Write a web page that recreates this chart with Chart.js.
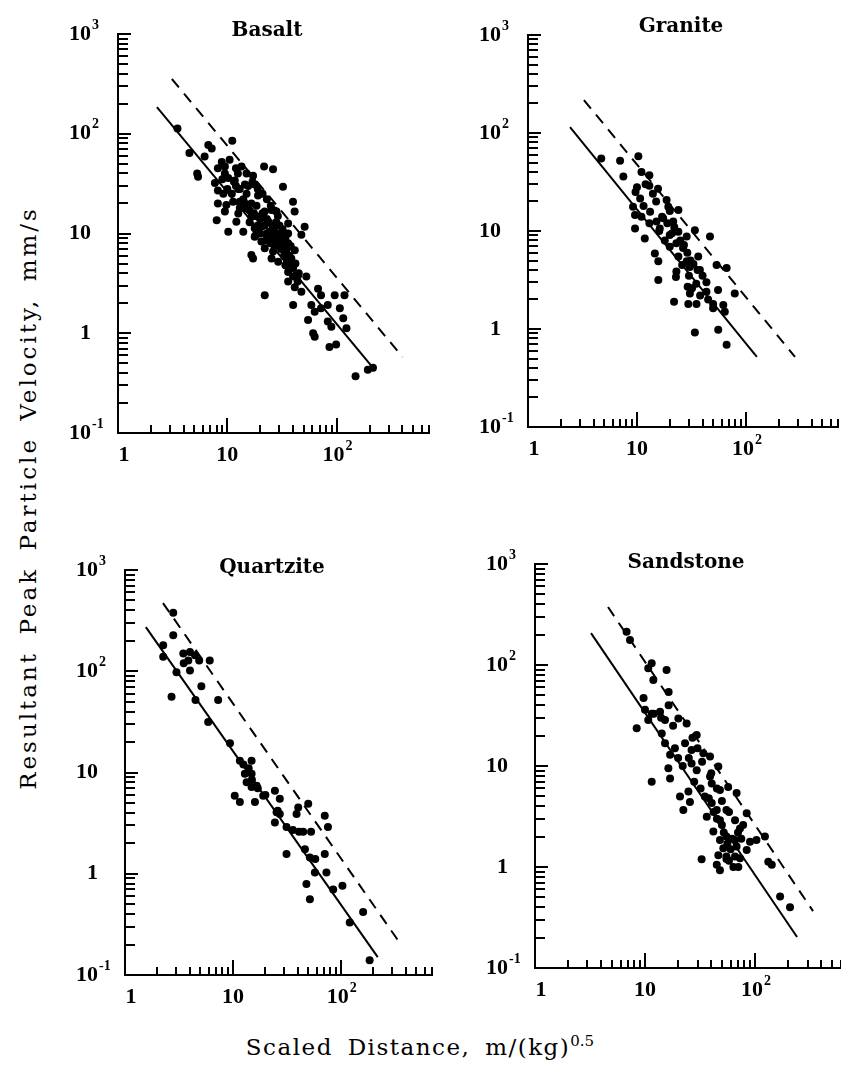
<!DOCTYPE html>
<html>
<head>
<meta charset="utf-8">
<title>Peak particle velocity vs scaled distance</title>
<script src="https://cdn.jsdelivr.net/npm/chart.js@4.4.1/dist/chart.umd.min.js"></script>
<style>
  html, body { margin: 0; padding: 0; background: #fff; overflow: hidden; }
  #page { position: relative; width: 841px; height: 1079px; overflow: hidden; background: #fff; }
  canvas { position: absolute; }
  #yTitle {
    position: absolute; left: -322px; top: 483px; width: 700px; height: 30px; line-height: 30px;
    text-align: center; transform: rotate(-90deg); white-space: nowrap;
    font-family: 'DejaVu Serif', serif; font-size: 23px; letter-spacing: 3px; word-spacing: 6px; color: #000;
  }
  #xTitle {
    position: absolute; left: 120px; top: 1030px; width: 600px; height: 34px; line-height: 34px;
    text-align: center; white-space: nowrap;
    font-family: 'DejaVu Serif', serif; font-size: 23px; letter-spacing: 1.5px; word-spacing: 6px; color: #000;
  }
  #xTitle sup { font-size: 15px; letter-spacing: 0; vertical-align: 9px; line-height: 0; }
</style>
</head>
<body>
<div id="page">
<div id="yTitle">Resultant Peak Particle Velocity, mm/s</div>
<div id="xTitle">Scaled Distance, m/(kg)<sup>0.5</sup></div>
</div>
<script>
// valeurs (distance réduite, vitesse particulaire en mm/s)
const basaltDist = [3.5, 4.5, 6.7, 7.2, 6.2, 11.1, 5.3, 5.4, 8.9, 9.5,
  8.2, 13.5, 10.2, 11.7, 17.2, 21.7, 26.2, 7.7, 8.2, 9.2,
  12.6, 14.5, 17.8, 19.1, 32.3, 8.2, 9.8, 11.3, 13, 16.6,
  39.9, 41.3, 8, 9.5, 12.6, 14.5, 16.6, 19.1, 22, 25.4,
  28.2, 12.1, 10.2, 14, 17.8, 20.5, 23.6, 27.2, 24.4, 36,
  51, 17.8, 20.5, 23.6, 27.2, 31.3, 36, 47.6, 22, 26.2,
  31.3, 34.8, 41.4, 16.6, 17.2, 25.4, 29.2, 38.5, 36, 40,
  44.4, 52.8, 36, 41.4, 22, 47.6, 67.6, 72, 96, 118,
  40, 58.7, 63, 72, 83, 107, 54.8, 83, 89.5, 115,
  123, 61, 63, 86, 99, 149, 193, 215,
  14, 15, 13, 16, 18, 20, 22, 24, 26, 28,
  25, 27, 29, 31, 33, 35, 38, 40, 20, 18,
  23, 30, 32, 34, 36, 38, 12, 11, 10, 9,
  9.5, 10.5, 12, 15, 17, 19, 21, 23, 25, 27, 29,
  13, 14.5, 16, 17.5, 19, 21, 23, 24.5, 26, 28,
  30, 33, 35, 37, 42, 45, 11.5, 12.5, 15.5, 18.5,
  22.5, 27.5, 31, 34, 44];
const basaltPPV = [113, 64, 77, 71, 59, 85, 40, 37, 52, 47,
  45, 47, 36, 34, 38, 47, 44, 32, 27, 25,
  28, 31, 31, 24, 29.5, 20, 19.3, 20.8, 20.8, 20,
  20.8, 16.6, 13.6, 16.6, 15.9, 17.9, 14.7, 14.7, 16.6, 17.2,
  16.6, 13.1, 10.4, 10.4, 11.3, 11.7, 13.1, 11.7, 10.4, 12.6,
  11.7, 9.3, 8.3, 8.9, 8.3, 8.9, 10, 9.7, 7.1, 6.6,
  7.1, 6.3, 6.8, 6.1, 5.6, 5.6, 5.2, 5.6, 4.1, 3.7,
  3.8, 3.7, 3.3, 2.9, 2.4, 2.6, 2.8, 2.4, 2.4, 2.4,
  1.92, 1.92, 1.64, 1.78, 1.92, 1.78, 1.36, 1.31, 1.16, 1.41,
  1.12, 1.0, 0.92, 0.73, 0.77, 0.37, 0.43, 0.45,
  22, 25, 18, 13, 15, 14, 12, 13, 11, 10,
  8, 7.5, 8, 7, 6, 5.5, 5, 4.5, 10, 9.5,
  10, 12, 11, 9, 8, 7.5, 30, 25, 28, 35,
  40, 55, 45, 40, 33, 28, 25, 22, 19, 17, 15,
  28, 20, 17, 16, 12, 16, 14, 9, 12, 13,
  9, 8, 7, 6, 5, 4, 33, 40, 30, 19,
  8.5, 9.5, 10, 4.8, 3.3];
const basaltFitDist = [2.27, 227];
const basaltFitPPV = [185, 0.42];
const basaltUpperDist = [3.11, 401];
const basaltUpperPPV = [354, 0.578];

const graniteDist = [4.7, 7.0, 10.3, 7.5, 11, 13, 10, 9.7, 13, 15.6,
  10.7, 18.7, 19.4, 24, 9.2, 9.6, 11, 13.2, 15.1, 17.4,
  21.5, 9.6, 11.8, 16.2, 20, 24, 28.6, 34, 46.8, 20,
  23, 26.5, 14.6, 15.7, 28.6, 30.6, 36.5, 37.8, 53.8, 66.5,
  15.7, 23, 22.8, 29.2, 35, 43.4, 55.5, 30.6, 43.4, 79,
  21.9, 29.6, 35.2, 50, 62, 64, 34, 55.7, 66.5,
  12, 14, 11.5, 17, 19, 22, 25, 27, 29, 31,
  33, 36, 40, 16, 18, 13, 21, 24, 26, 30,
  32, 38, 45, 50, 20, 15];
const granitePPV = [55, 52, 58, 36, 40, 37, 28, 25, 29, 27,
  21.5, 20.7, 17.7, 16.4, 17.7, 14.6, 14, 15.7, 12.5, 13.5,
  12.5, 10.6, 8.4, 10.6, 9.1, 9.8, 8.8, 10.2, 8.8, 6.9,
  7.5, 6.7, 5.9, 4.9, 4.9, 4.3, 5.5, 4.0, 4.5, 4.2,
  3.16, 3.85, 3.4, 2.7, 2.9, 3.0, 2.5, 2.3, 2.4, 2.3,
  1.9, 1.8, 1.8, 1.63, 1.76, 1.5, 0.92, 0.98, 0.69,
  30, 24, 18, 14, 12, 11, 8, 7.2, 6, 5,
  4.6, 4, 3.5, 10, 8, 12, 9.5, 5.5, 4.5, 3.5,
  2.6, 2.2, 2.0, 1.8, 16, 20];
const graniteFitDist = [2.43, 126];
const graniteFitPPV = [115, 0.52];
const graniteUpperDist = [3.26, 282];
const graniteUpperPPV = [217, 0.52];

const quartziteDist = [2.8, 2.8, 2.26, 2.26, 3.47, 4.0, 4.45, 3.86, 4.87, 6.1,
  3.0, 4.0, 5.1, 2.7, 4.5, 7.3, 5.9, 9.4, 11.6, 14.9,
  12.9, 14.9, 13.4, 14.9, 16.6, 10.4, 11.6, 16, 19.1, 24.5,
  27.2, 25.4, 27.2, 24.5, 40.3, 49.9, 38.9, 31.4, 41, 44.8,
  71, 76, 31.4, 46.5, 51.7, 71, 57.5, 73.6, 48, 51.7,
  85, 103.5, 121, 161, 185,
  14, 12.5, 15, 17, 20, 26, 36, 53, 58, 3.5];
const quartzitePPV = [378, 227, 181, 139, 150, 155, 144, 128, 128, 128,
  98, 102, 71, 56, 52, 52, 31.5, 19.5, 13.1, 13.1,
  9.7, 9.7, 8.0, 7.2, 7.4, 5.9, 5.1, 5.1, 5.9, 6.6,
  5.5, 4.05, 3.9, 3.2, 4.5, 4.9, 3.9, 2.9, 2.6, 2.6,
  3.75, 2.9, 1.57, 1.75, 1.45, 1.57, 1.03, 1.03, 0.79, 0.56,
  0.70, 0.76, 0.33, 0.42, 0.14,
  11, 12, 8.5, 7, 6, 4.2, 2.7, 2.6, 1.4, 120];
const quartziteFitDist = [1.56, 220];
const quartziteFitPPV = [273, 0.15];
const quartziteUpperDist = [2.25, 337];
const quartziteUpperPPV = [471, 0.222];

const sandstoneDist = [6.8, 7.3, 10.7, 11.5, 15.7, 11.9, 16.4, 16.4, 9.7, 10,
  11.5, 13.7, 10.7, 15.2, 8.4, 20.1, 23.9, 29.5, 14.2, 15.2,
  18.7, 23.1, 16.9, 26.5, 33.9, 39, 26.5, 29.5, 46.4, 16.3,
  16.9, 11.5, 39, 40.4, 48, 57, 68, 24.8, 20.8, 25.6,
  40.4, 22.3, 44.9, 55, 36.4, 48, 65.8, 84, 73, 41.8,
  48, 55, 65.8, 90, 103, 123, 84, 51.5, 46.4, 55,
  65.8, 73, 32.7, 44.9, 48, 63.6, 70.5, 132, 142, 169, 208,
  20, 22, 28, 32, 35, 38, 42, 45, 50, 52,
  56, 60, 62, 70, 78, 58, 50, 45, 40, 33,
  30, 27, 18, 14, 12, 25, 55, 58, 68, 75];
const sandstonePPV = [214, 177, 93, 104, 89, 71, 54, 40, 47, 36,
  33, 34.5, 28.5, 28.5, 23.6, 29.6, 26.4, 20.3, 21, 16.8,
  15, 16.8, 12.9, 14.4, 13.4, 12.4, 10.6, 9.1, 9.9, 9.5,
  7.5, 7.0, 7.85, 6.7, 5.8, 6.2, 5.4, 5.6, 5.0, 4.4,
  4.3, 3.66, 3.66, 3.66, 3.15, 2.9, 2.9, 3.4, 2.4, 2.24,
  1.85, 2.0, 1.85, 1.78, 1.85, 2.0, 1.47, 1.53, 1.31, 1.27,
  1.27, 1.22, 1.19, 1.05, 0.93, 1.0, 1.0, 1.13, 1.05, 0.51, 0.40,
  12, 10, 7, 6, 5, 4.8, 3.5, 3, 2.6, 2.2,
  1.7, 1.5, 1.9, 2.2, 2.6, 3.5, 4.5, 6, 8.5, 11,
  15, 19, 25, 30, 33, 12, 1.2, 1.15, 1.6, 1.9];
const sandstoneFitDist = [3.23, 241];
const sandstoneFitPPV = [207, 0.203];
const sandstoneUpperDist = [4.61, 337];
const sandstoneUpperPPV = [375, 0.366];

// axes
const xMin = 1, xMax = 700;
const yMin = 0.1, yMax = 1000;
const xTickValues = [1, 10, 100];
const xTickBase = ['1', '10', '10'];
const xTickExp = ['', '', '2'];
const yTickValues = [0.1, 1, 10, 100, 1000];
const yTickBase = ['10', '1', '10', '10', '10'];
const yTickExp = ['-1', '', '', '2', '3'];
const minorSteps = [2, 3, 4, 5, 6, 7, 8, 9];

// placement des quatre cadres dans la page
const panels = [
  { title: 'Basalt', dist: basaltDist, ppv: basaltPPV,
    fit: [basaltFitDist, basaltFitPPV], upper: [basaltUpperDist, basaltUpperPPV],
    left: 118, top: 34, width: 311, height: 399, titleDx: 149, titleDy: -3 },
  { title: 'Granite', dist: graniteDist, ppv: granitePPV,
    fit: [graniteFitDist, graniteFitPPV], upper: [graniteUpperDist, graniteUpperPPV],
    left: 528, top: 35, width: 310, height: 392, titleDx: 153, titleDy: -8 },
  { title: 'Quartzite', dist: quartziteDist, ppv: quartzitePPV,
    fit: [quartziteFitDist, quartziteFitPPV], upper: [quartziteUpperDist, quartziteUpperPPV],
    left: 125, top: 570, width: 307, height: 405, titleDx: 147, titleDy: -2 },
  { title: 'Sandstone', dist: sandstoneDist, ppv: sandstonePPV,
    fit: [sandstoneFitDist, sandstoneFitPPV], upper: [sandstoneUpperDist, sandstoneUpperPPV],
    left: 535, top: 564, width: 313, height: 404, titleDx: 151, titleDy: -1 },
];

const PAD = { left: 80, top: 32, right: 14, bottom: 48 };

function zip(xs, ys) {
  return xs.map((x, i) => ({ x, y: ys[i] }));
}

// petites graduations vers l'intérieur + étiquettes 10^n + titre du cadre
const logAxisDecor = {
  id: 'logAxisDecor',
  afterDraw(chart, args, opts) {
    const { ctx, chartArea: area } = chart;
    const xs = chart.scales.x;
    const ys = chart.scales.y;
    ctx.save();
    ctx.strokeStyle = '#000';
    ctx.lineWidth = 2;
    ctx.beginPath();
    for (let e = -1; e <= 3; e++) {
      [1, ...minorSteps].forEach((m) => {
        const v = m * Math.pow(10, e);
        if (v <= yMin * 1.0001 || v > yMax * 1.0001) return;
        const py = Math.round(ys.getPixelForValue(v));
        const len = m === 1 ? 13 : 10;
        ctx.moveTo(area.left, py);
        ctx.lineTo(area.left + len, py);
      });
    }
    for (let e = 0; e <= 2; e++) {
      [1, ...minorSteps].forEach((m) => {
        const v = m * Math.pow(10, e);
        if (v <= xMin * 1.0001 || v > xMax * 1.0001) return;
        const px = Math.round(xs.getPixelForValue(v));
        const len = m === 1 ? 15 : 8;
        ctx.moveTo(px, area.bottom);
        ctx.lineTo(px, area.bottom - len);
      });
    }
    ctx.stroke();

    ctx.fillStyle = '#000';
    ctx.textBaseline = 'middle';
    yTickValues.forEach((v, i) => {
      const py = ys.getPixelForValue(v);
      const bx = area.left - 27;
      ctx.font = 'bold 22px "Liberation Serif"';
      ctx.textAlign = 'right';
      ctx.fillText(yTickBase[i], bx, py);
      if (yTickExp[i]) {
        ctx.font = 'bold 14px "Liberation Serif"';
        ctx.textAlign = 'left';
        ctx.fillText(yTickExp[i], bx + 1, py - 9);
      }
    });
    xTickValues.forEach((v, i) => {
      let px = xs.getPixelForValue(v);
      if (i === 0) px += 6;
      if (xTickExp[i]) px -= 3;
      const py = area.bottom + 22;
      ctx.font = 'bold 22px "Liberation Serif"';
      ctx.textAlign = 'center';
      ctx.fillText(xTickBase[i], px, py);
      if (xTickExp[i]) {
        const w = ctx.measureText(xTickBase[i]).width;
        ctx.font = 'bold 14px "Liberation Serif"';
        ctx.textAlign = 'left';
        ctx.fillText(xTickExp[i], px + w / 2 + 1, py - 9);
      }
    });

    ctx.font = 'bold 20px "DejaVu Serif"';
    ctx.textAlign = 'center';
    ctx.fillText(opts.title, area.left + opts.dx, area.top + opts.dy);
    ctx.restore();
  },
};

const page = document.getElementById('page');
panels.forEach((p) => {
  const cv = document.createElement('canvas');
  const w = p.width + PAD.left + PAD.right;
  const h = p.height + PAD.top + PAD.bottom;
  cv.width = w;
  cv.height = h;
  cv.style.width = w + 'px';
  cv.style.height = h + 'px';
  cv.style.left = (p.left - PAD.left) + 'px';
  cv.style.top = (p.top - PAD.top) + 'px';
  page.appendChild(cv);

  new Chart(cv, {
    type: 'scatter',
    data: {
      datasets: [
        {
          data: zip(p.dist, p.ppv),
          pointRadius: 4,
          pointBackgroundColor: '#000',
          pointBorderWidth: 0,
        },
        {
          data: zip(p.fit[0], p.fit[1]),
          showLine: true,
          borderColor: '#000',
          borderWidth: 2,
          pointRadius: 0,
        },
        {
          data: zip(p.upper[0], p.upper[1]),
          showLine: true,
          borderColor: '#000',
          borderWidth: 2,
          borderDash: [11, 8],
          pointRadius: 0,
        },
      ],
    },
    plugins: [logAxisDecor],
    options: {
      responsive: false,
      maintainAspectRatio: false,
      devicePixelRatio: 1,
      animation: false,
      layout: { padding: PAD },
      plugins: {
        legend: { display: false },
        tooltip: { enabled: false },
        logAxisDecor: { title: p.title, dx: p.titleDx, dy: p.titleDy },
      },
      scales: {
        x: {
          type: 'logarithmic',
          min: xMin,
          max: xMax,
          ticks: { display: false },
          grid: { display: false, drawTicks: false },
          border: { display: true, color: '#000', width: 2 },
        },
        y: {
          type: 'logarithmic',
          min: yMin,
          max: yMax,
          ticks: { display: false },
          grid: { display: false, drawTicks: false },
          border: { display: true, color: '#000', width: 2 },
        },
      },
    },
  });
});
</script>
</body>
</html>
